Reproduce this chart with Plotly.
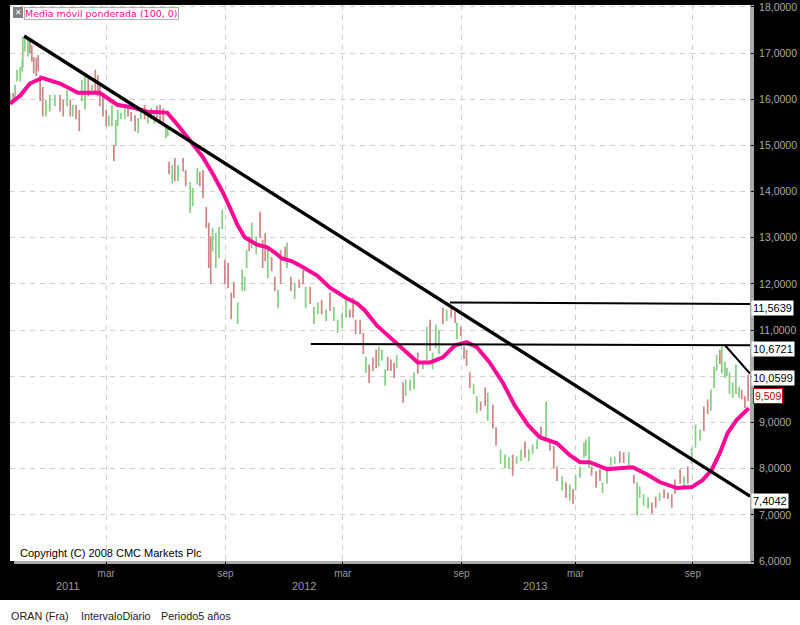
import pandas as pd
import plotly.graph_objects as go

START = pd.Timestamp("2010-10-02")
END_DAY = 1154

bar_days = [0,5,8,11,16,19,20,23,28,31,34,37,41,44,47,51,56,62,70,78,83,89,94,98,103,108,112,117,122,128,133,137,140,145,150,154,159,162,165,168,173,179,184,189,195,200,204,210,215,220,225,229,234,239,243,246,
248,253,257,262,270,274,281,285,292,296,301,306,310,313,316,321,326,331,335,340,345,349,355,362,366,369,373,377,384,390,394,398,402,408,413,418,422,429,432,438,444,451,457,461,468,474,480,486,493,499,505,511,518,524,530,535,539,546,551,555,560,566,571,575,580,585,589,594,599,603,613,617,624,630,636,644,650,655,659,664,669,675,681,688,694,697,703,708,712,717,723,728,734,741,745,753,758,765,772,778,784,790,797,803,809,815,822,828,836,842,848,853,861,867,873,878,882,889,895,898,903,907,914,920,924,931,937,943,951,957,965,973,978,982,988,995,1001,1007,1013,1020,1026,1032,1037,1045,1051,1057,1063,1069,1076,1082,1088,1093,1098,1102,1107,1110,1115,1118,1122,1127,1132,1137,1141,1146,1151]
bar_high = [16.12,16.12,16.29,16.62,16.68,16.83,17.33,17.33,17.33,17.26,17.16,16.90,16.88,16.94,16.51,16.25,15.97,16.08,16.08,16.08,15.97,16.18,15.97,15.86,15.86,15.75,16.40,16.51,16.44,16.29,16.62,16.51,16.29,16.08,15.75,15.64,15.86,15.00,15.54,15.75,15.69,15.79,15.86,15.71,15.64,15.58,15.75,15.86,15.75,15.79,15.71,15.84,15.86,15.79,15.43,15.36,
14.63,14.56,14.71,14.56,14.71,14.45,14.19,14.06,14.50,14.41,14.45,13.65,13.31,13.01,13.20,13.09,13.22,13.59,12.51,12.44,11.80,12.03,11.58,12.29,12.14,12.72,13.01,13.31,13.01,13.55,12.94,13.09,12.72,12.57,12.14,11.86,12.72,12.79,12.88,12.14,12.01,12.08,12.29,11.92,11.92,11.49,11.58,11.64,11.43,11.80,11.49,11.21,11.36,11.69,11.43,11.69,11.21,11.21,10.93,10.41,10.24,10.39,10.56,10.63,10.56,10.13,10.41,10.35,10.28,10.45,9.85,9.91,9.91,10.07,10.50,10.28,11.06,11.21,10.50,11.10,10.99,11.47,11.43,11.49,11.38,11.15,11.06,10.63,10.56,10.07,9.81,9.55,9.44,9.74,9.63,9.37,8.88,8.40,8.29,8.23,8.29,8.25,8.40,8.57,8.40,8.51,8.62,8.90,9.44,8.62,8.47,8.03,7.82,7.69,7.64,7.54,7.86,8.03,8.55,8.62,8.68,8.03,7.93,7.97,7.69,8.03,8.23,8.25,8.36,8.34,8.34,7.86,7.69,7.60,7.43,7.36,7.25,7.38,7.47,7.54,7.47,7.43,7.75,7.97,7.82,8.03,8.44,8.94,8.83,9.33,9.48,9.70,10.19,10.45,10.56,10.63,10.30,10.17,10.07,9.85,10.24,9.76,9.70,9.55,10.02]
bar_low = [15.90,15.95,15.97,16.40,16.40,16.62,16.70,17.05,16.94,17.01,16.83,16.57,16.51,16.62,15.97,15.64,15.64,15.75,15.86,15.75,15.64,15.86,15.64,15.64,15.58,15.32,15.97,15.79,16.08,16.14,16.18,16.08,15.86,15.64,15.43,15.43,15.43,14.67,15.00,15.43,15.58,15.58,15.64,15.54,15.32,15.28,15.58,15.58,15.49,15.58,15.49,15.58,15.54,15.49,15.17,15.21,
14.39,14.19,14.24,14.24,14.45,14.13,13.55,13.70,14.17,14.13,13.87,13.22,12.36,12.01,12.72,12.36,12.57,13.20,12.01,11.92,11.25,11.71,11.15,11.86,11.86,12.36,12.72,12.79,12.66,13.01,12.36,12.51,12.14,12.29,11.86,11.49,12.01,12.51,12.36,11.86,11.69,11.92,12.01,11.49,11.58,11.15,11.36,11.36,11.21,11.43,11.21,10.95,11.06,11.28,11.28,11.28,10.93,10.93,10.50,10.09,9.87,10.13,10.19,10.24,10.35,9.81,10.13,10.13,9.98,10.19,9.44,9.59,9.70,9.74,10.07,10.17,10.35,10.56,10.17,10.63,10.50,11.15,11.21,11.28,11.17,10.82,10.89,10.39,10.24,9.76,9.63,9.22,9.27,9.37,9.05,8.88,8.51,8.12,8.03,8.01,7.86,8.12,8.18,8.25,8.18,8.34,8.44,8.68,8.68,8.40,8.03,7.75,7.54,7.38,7.32,7.25,7.54,7.82,8.25,8.29,8.03,7.86,7.60,7.75,7.49,7.69,8.08,8.12,8.14,8.14,8.08,7.69,7.00,7.38,7.21,7.15,7.04,7.17,7.32,7.38,7.36,7.17,7.47,7.69,7.64,7.69,8.12,8.47,8.62,8.83,9.20,9.27,9.76,10.13,10.28,10.07,9.98,10.02,9.63,9.55,9.63,9.55,9.52,9.33,9.48]
bar_dir = ("UDUUUUUUUDDDDDDDUUUDDUDUDDUUDUDDDDDUUDUUUUDDDUUDUDUDDDUU"
           "DUDUDDUUUDDDDDUUUUDDDDUUUUDUUDDDUDDUDDUDUDDUDUUDUDUUUUDD"
           "DDDUDDDUUUDDDUDUUUDUUDUUUDUDDUDDDDUUDDUDDUUUDUUDUUUDUDDD"
           "UDUDUUUUUDDDUUUUDDUDUUUUDDUDDDDDUDUUUDDUUUDUUUUUUUDDDDDDUDUD")

ma_days = [0,16,31,50,78,106,140,167,192,214,245,260,281,301,316,332,343,355,366,385,401,413,424,440,457,479,499,525,541,553,572,589,608,624,636,655,675,694,712,728,748,769,787,808,826,853,873,889,904,931,951,971,993,1013,1040,1063,1080,1094,1107,1119,1133,1152]
ma_vals = [15.90,16.08,16.34,16.46,16.34,16.14,16.14,15.88,15.82,15.73,15.71,15.47,15.10,14.74,14.39,13.98,13.65,13.27,13.01,12.85,12.79,12.68,12.55,12.49,12.36,12.18,11.92,11.69,11.58,11.43,11.10,10.89,10.67,10.45,10.30,10.30,10.41,10.67,10.74,10.63,10.30,9.85,9.37,8.94,8.68,8.55,8.29,8.14,8.14,7.99,8.01,8.03,7.88,7.71,7.58,7.60,7.75,7.97,8.34,8.77,9.05,9.31]

trend_main_days = [22, 1154]
trend_main_vals = [17.37, 7.4042]
res_upper_days = [686, 1154]
res_upper_vals = [11.60, 11.5639]
res_mid_days = [469, 1154]
res_mid_vals = [10.70, 10.6721]
trend_short_days = [1115, 1154]
trend_short_vals = [10.6721, 10.0599]

y_ticks = list(range(6, 19))
y_labels = ["" if v == 10 else f"{v},0000" for v in y_ticks]
x_tick_dates = ["2011-03-01", "2011-09-03", "2012-03-04", "2012-09-05", "2013-03-02", "2013-09-01"]
x_tick_labels = ["mar", "sep", "mar", "sep", "mar", "sep"]
year_labels = ["2011", "2012", "2013"]
price_tags = ["11,5639", "10,6721", "10,0599", "7,4042"]
footer_labels = ["ORAN (Fra)", "IntervaloDiario", "Periodo5 años"]

FONT = "Liberation Sans"
d = lambda arr: [START + pd.Timedelta(days=int(v)) for v in arr]
W = 740
px = lambda x: (x - 10) / W
py = lambda y: (561 - y) / 556

opens = [l if f == "U" else h for h, l, f in zip(bar_high, bar_low, bar_dir)]
closes = [h if f == "U" else l for h, l, f in zip(bar_high, bar_low, bar_dir)]

fig = go.Figure()
fig.add_trace(go.Candlestick(
    x=d(bar_days), open=opens, high=bar_high, low=bar_low, close=closes,
    increasing=dict(line=dict(color="#84d084", width=1.4), fillcolor="#84d084"),
    decreasing=dict(line=dict(color="#cf8686", width=1.4), fillcolor="#cf8686"),
    whiskerwidth=0, showlegend=False, hoverinfo="skip"))
fig.add_trace(go.Scatter(x=d(ma_days), y=ma_vals, mode="lines",
                         line=dict(color="#ff0a96", width=4), showlegend=False))
for xs, ys, w in [(trend_main_days, trend_main_vals, 3.4),
                  (res_upper_days, res_upper_vals, 2),
                  (res_mid_days, res_mid_vals, 2),
                  (trend_short_days, trend_short_vals, 2)]:
    fig.add_trace(go.Scatter(x=d(xs), y=ys, mode="lines",
                             line=dict(color="black", width=w), showlegend=False))

shapes = [
    dict(type="rect", xref="paper", yref="paper", x0=px(0), x1=px(801), y0=py(626), y1=py(600),
         fillcolor="white", line_width=0, layer="below"),
    dict(type="rect", xref="paper", yref="paper", x0=px(750), x1=px(754), y0=py(564), y1=py(5),
         fillcolor="#aaaaaa", line_width=0, layer="below"),
    dict(type="rect", xref="paper", yref="paper", x0=px(14), x1=px(754), y0=py(564), y1=py(561),
         fillcolor="#aaaaaa", line_width=0, layer="below"),
    dict(type="rect", xref="paper", yref="paper", x0=px(13), x1=px(23), y0=py(18), y1=py(7),
         fillcolor="#808080", line_width=0, layer="above"),
]

ann = []
def note(text, x, y, size=11, color="black", anchor="left", family=FONT, **kw):
    ann.append(dict(text=text, x=px(x), y=py(y), xref="paper", yref="paper", showarrow=False,
                    xanchor=anchor, yanchor="middle",
                    font=dict(family=family, size=size, color=color), **kw))

note("✕", 18, 12.5, size=8, color="white", anchor="center")
note("Media móvil ponderada (100, 0)", 24, 13, size=9.5, color="#ff0a96", family="DejaVu Sans",
     bgcolor="white", bordercolor="#b0b0b0", borderwidth=1, borderpad=0)
note("Copyright (C) 2008 CMC Markets Plc", 18, 553, size=11)
for lbl, x in zip(footer_labels, [9, 79, 159]):
    note(lbl, x, 616, size=10.8, color="#222222")
for lbl, x in zip(year_labels, [68, 304, 535]):
    note(lbl, x, 586, size=11, color="#999999", anchor="center")
for lbl, yp in zip(price_tags, [308, 349, 378, 501]):
    note(lbl, 751, yp, size=11, color="black", bgcolor="white", borderpad=1)
note("9,509", 753, 396, size=10.5, color="#c00000", bgcolor="white",
     bordercolor="#c00000", borderwidth=1, borderpad=1)

fig.update_layout(
    width=800, height=625, autosize=False,
    margin=dict(l=10, r=50, t=5, b=64),
    paper_bgcolor="black", plot_bgcolor="white",
    showlegend=False, shapes=shapes, annotations=ann,
    font=dict(family=FONT),
    xaxis=dict(type="date", automargin=False,
               range=[START, START + pd.Timedelta(days=END_DAY)],
               rangeslider=dict(visible=False), tickmode="array",
               tickvals=x_tick_dates, ticktext=x_tick_labels,
               showgrid=True, gridcolor="#cfcfcf", griddash="5px,5px", gridwidth=1,
               ticks="outside", ticklen=3, tickcolor="black",
               tickfont=dict(family=FONT, size=10, color="#999999"),
               zeroline=False, showline=False),
    yaxis=dict(range=[6, 18.04], side="right", automargin=False, tickmode="array",
               tickvals=y_ticks, ticktext=y_labels,
               showgrid=True, gridcolor="#cfcfcf", griddash="5px,5px", gridwidth=1,
               ticks="outside", ticklen=6, tickcolor="black",
               tickfont=dict(family=FONT, size=10.5, color="#aaaaaa"),
               zeroline=False, showline=False),
)
fig.write_html("out.html", config=dict(displayModeBar=False),
               post_script="document.body.style.margin='0';document.body.style.overflow='hidden';")
